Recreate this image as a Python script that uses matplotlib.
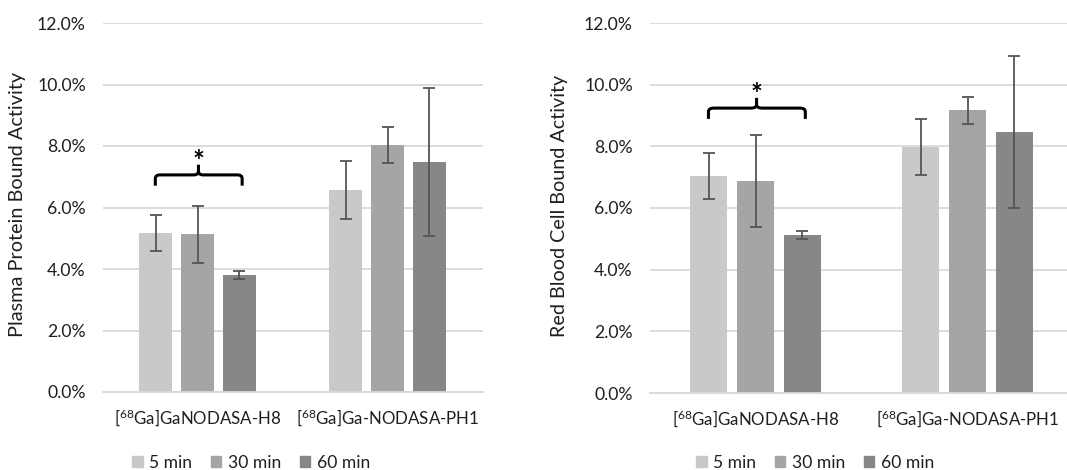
import numpy as np
import matplotlib
matplotlib.use('Agg')
import matplotlib.pyplot as plt
from matplotlib.path import Path
from matplotlib.patches import PathPatch, Patch
from matplotlib.ticker import FuncFormatter

plt.rcParams['font.family'] = ['Lato', 'DejaVu Sans']
plt.rcParams['mathtext.fontset'] = 'custom'
plt.rcParams['mathtext.rm'] = 'Lato'

compuestos = [r'[$\mathregular{^{68}}$Ga]GaNODASA-H8', r'[$\mathregular{^{68}}$Ga]Ga-NODASA-PH1']
tiempos = ['5 min', '30 min', '60 min']

# valores en % (filas = tiempo, columnas = compuesto)
plasma = [[5.17, 6.57], [5.13, 8.03], [3.80, 7.48]]
plasma_err = [[0.57, 0.94], [0.93, 0.58], [0.13, 2.42]]
rbc = [[7.04, 7.98], [6.88, 9.17], [5.12, 8.46]]
rbc_err = [[0.75, 0.90], [1.48, 0.44], [0.13, 2.47]]

etiquetas_y = ['Plasma Protein Bound Activity', 'Red Blood Cell Bound Activity']
altura_llave = [7.06, 9.24]  # altura de la llave de significancia

colores = ['#c9c9c9', '#a5a5a5', '#878787']
color_err = '#555555'
texto = '#1f1f1f'

fig = plt.figure(figsize=(10.67, 4.70), dpi=100)
ax1 = fig.add_axes([102.5 / 1067, 78 / 470, 380 / 1067, 369 / 470])
ax2 = fig.add_axes([649.5 / 1067, 77 / 470, 424 / 1067, 370 / 470])
r = fig.canvas.get_renderer()


def tam_para(cadena, largo):
    # tamaño de letra con el que 'cadena' mide 'largo' pixeles de ancho
    t = fig.text(0, 0, cadena, fontsize=10)
    w = t.get_window_extent(r).width
    t.remove()
    return 10 * largo / w


def ajustar(t, largo):
    for _ in range(3):
        bb = t.get_window_extent(r)
        t.set_fontsize(t.get_fontsize() * largo / bb.height)


tam_x = tam_para(compuestos[0], 168)
tam_y = tam_para('12.0%', 49)
tam_leyenda = tam_para('5 min', 43)


def dibujar_llave(ax, y):
    x0, x1, xm = -0.222, 0.235, 0.005
    h = 0.35
    rr = 0.12
    dx = 0.025
    verts = [(x0, y - h), (x0, y - rr), (x0, y), (x0 + dx, y),
             (xm - dx, y), (xm, y), (xm, y + rr),
             (xm, y + h * 0.95)]
    codes = [Path.MOVETO, Path.LINETO, Path.CURVE3, Path.CURVE3,
             Path.LINETO, Path.CURVE3, Path.CURVE3, Path.LINETO]
    ax.add_patch(PathPatch(Path(verts, codes), fill=False, lw=2.2, color='black'))
    verts = [(xm, y + rr), (xm, y), (xm + dx, y),
             (x1 - dx, y), (x1, y), (x1, y - rr), (x1, y - h)]
    codes = [Path.MOVETO, Path.CURVE3, Path.CURVE3,
             Path.LINETO, Path.CURVE3, Path.CURVE3, Path.LINETO]
    ax.add_patch(PathPatch(Path(verts, codes), fill=False, lw=2.2, color='black'))
    ax.text(xm, y + 0.42, '*', ha='center', va='center', fontsize=20, fontweight='bold')


x = np.arange(len(compuestos))
ancho = 0.174
desp = 0.221

for ax, datos, errores, etiqueta, yl in [(ax1, plasma, plasma_err, etiquetas_y[0], altura_llave[0]),
                                         (ax2, rbc, rbc_err, etiquetas_y[1], altura_llave[1])]:
    for i in range(len(tiempos)):
        ax.bar(x + (i - 1) * desp, datos[i], ancho, color=colores[i], zorder=2)
        ax.errorbar(x + (i - 1) * desp, datos[i], yerr=errores[i], fmt='none',
                    ecolor=color_err, elinewidth=1.3, capsize=4, capthick=1.3, zorder=3)
    ax.set_xlim(-0.5, 1.5)
    ax.set_ylim(0, 12)
    ax.set_yticks(np.arange(0, 12.1, 2))
    ax.yaxis.set_major_formatter(FuncFormatter(lambda v, p: f'{v:.1f}%'))
    ax.set_xticks(x)
    ax.set_xticklabels(compuestos)
    ax.tick_params(axis='y', length=0, pad=12, labelsize=tam_y, labelcolor=texto)
    ax.tick_params(axis='x', length=0, pad=11, labelsize=tam_x, labelcolor=texto)
    ax.grid(axis='y', color='#d9d9d9', lw=1.3, zorder=0)
    for s in ['top', 'right', 'left']:
        ax.spines[s].set_visible(False)
    ax.spines['bottom'].set_color('#d9d9d9')
    ax.spines['bottom'].set_linewidth(1.3)
    ax.set_ylabel(etiqueta, fontsize=13, color=texto)
    dibujar_llave(ax, yl)

ajustar(ax1.yaxis.label, 266)
ajustar(ax2.yaxis.label, 262)
ax1.yaxis.set_label_coords(-0.201, 0.507)
ax2.yaxis.set_label_coords(-0.192, 0.505)

handles = [Patch(color=c) for c in colores]
for cx in [251, 815]:
    fig.legend(handles, tiempos, loc='center', bbox_to_anchor=(cx / 1067, 1 - 463 / 470),
               ncol=3, frameon=False, fontsize=tam_leyenda, handlelength=0.6, handleheight=0.6,
               handletextpad=0.36, columnspacing=1.08, labelcolor=texto,
               borderpad=0.1)

fig.savefig('out.png', dpi=100)
